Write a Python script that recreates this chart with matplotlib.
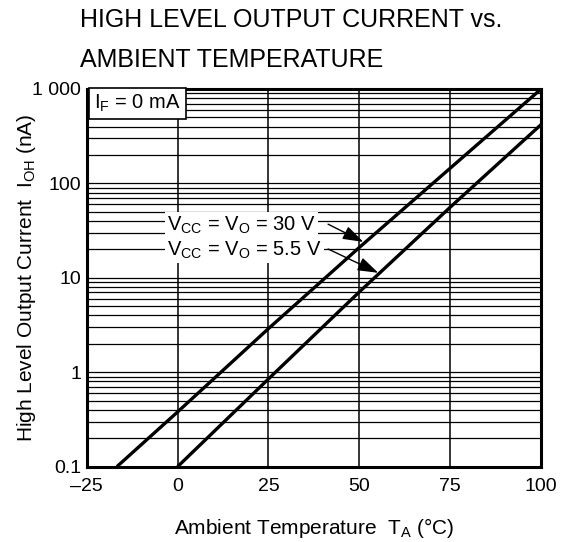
import matplotlib
matplotlib.use('Agg')
import matplotlib.pyplot as plt
from matplotlib.ticker import LogLocator, FixedLocator, NullFormatter

plt.rcParams['font.family'] = ['Liberation Sans', 'DejaVu Sans']
plt.rcParams['mathtext.fontset'] = 'custom'
plt.rcParams['mathtext.rm'] = 'Liberation Sans'

# data
temp_30v = [-16.7, 0, 25, 50, 75, 100]
ioh_30v = [0.1, 0.38, 2.9, 21, 145, 1000]
temp_55v = [0, 25, 50, 75, 100]
ioh_55v = [0.1, 0.85, 7.1, 56, 420]

xticks = [-25, 0, 25, 50, 75, 100]
xticklabels = ['\u201325', '0', '25', '50', '75', '100']
yticks = [0.1, 1, 10, 100, 1000]
yticklabels = ['0.1', '1', '10', '100', '1 000']

fig = plt.figure(figsize=(5.69, 5.42), dpi=100)
ax = fig.add_axes([0.1524, 0.139, 0.7986, 0.6968])

ax.semilogy(temp_30v, ioh_30v, color='black', lw=2.4, solid_capstyle='butt', zorder=3)
ax.semilogy(temp_55v, ioh_55v, color='black', lw=2.4, solid_capstyle='butt', zorder=3)

ax.set_xlim(-25, 100)
ax.set_ylim(0.1, 1000)
ax.xaxis.set_major_locator(FixedLocator(xticks))
ax.set_xticklabels(xticklabels)
ax.yaxis.set_major_locator(FixedLocator(yticks))
ax.set_yticklabels(yticklabels)
ax.yaxis.set_minor_locator(LogLocator(base=10, subs=range(2, 10)))
ax.yaxis.set_minor_formatter(NullFormatter())
ax.tick_params(which='both', length=0, labelsize=14)
ax.tick_params(axis='x', pad=8)
ax.tick_params(axis='y', pad=4)

ax.grid(axis='x', which='major', color='black', lw=1.1)
ax.grid(axis='y', which='both', color='black', lw=0.9)
for s in ax.spines.values():
    s.set_linewidth(2.2)

ax.set_xlabel(r'Ambient Temperature  T$_{\mathregular{A}}$ (°C)', fontsize=15, labelpad=15)
ax.set_ylabel(r'High Level Output Current  I$_{\mathregular{OH}}$ (nA)', fontsize=15)
ax.yaxis.set_label_coords(-0.108, 0.5)

# condition box
ax.text(-23.0, 700, r'I$_{\mathregular{F}}$ = 0 mA', fontsize=14.5, va='center', ha='left',
        zorder=4, bbox=dict(boxstyle='square,pad=0.25', fc='white', ec='black', lw=1.2))

# curve labels
ax.text(-2.9, 36, r'V$_{\mathregular{CC}}$ = V$_{\mathregular{O}}$ = 30 V', fontsize=14.5,
        va='center', ha='left', zorder=4,
        bbox=dict(boxstyle='square,pad=0.12', fc='white', ec='none'))
ax.text(-2.9, 19.7, r'V$_{\mathregular{CC}}$ = V$_{\mathregular{O}}$ = 5.5 V', fontsize=14.5,
        va='center', ha='left', zorder=4,
        bbox=dict(boxstyle='square,pad=0.12', fc='white', ec='none'))
arrow = dict(arrowstyle='-|>,head_length=0.9,head_width=0.3', color='black', lw=1,
             shrinkA=0, shrinkB=0, mutation_scale=14)
ax.annotate('', xy=(51.1, 24), xytext=(41.4, 37), arrowprops=arrow, zorder=5)
ax.annotate('', xy=(55.2, 11.3), xytext=(41.4, 20.2), arrowprops=arrow, zorder=5)

fig.text(0.1406, 0.950, 'HIGH LEVEL OUTPUT CURRENT vs.', fontsize=18, va='baseline', ha='left')
fig.text(0.1406, 0.877, 'AMBIENT TEMPERATURE', fontsize=18, va='baseline', ha='left')

fig.savefig('out.png', dpi=100)
